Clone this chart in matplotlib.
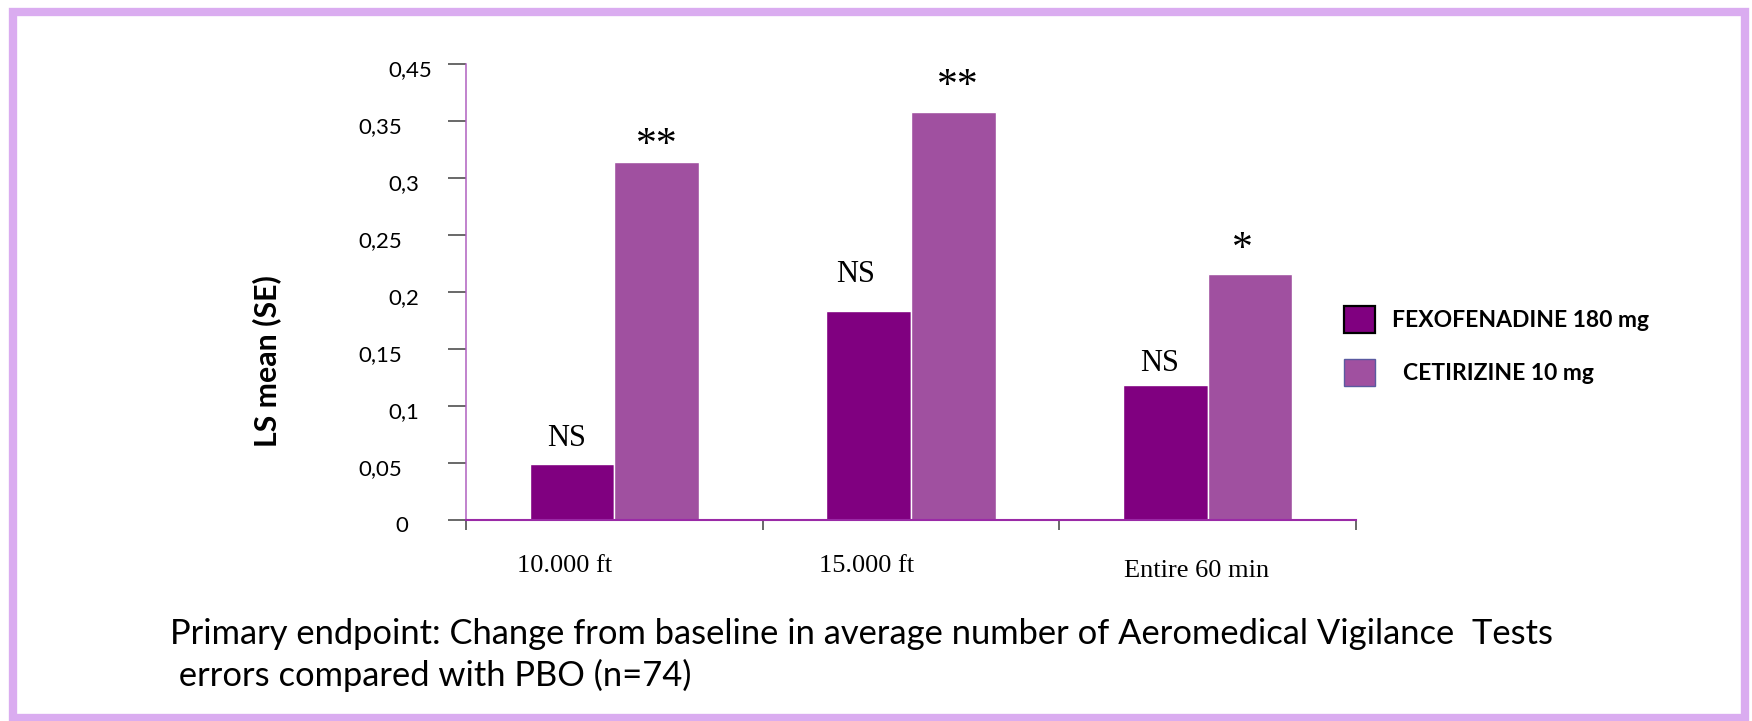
import numpy as np
import matplotlib.pyplot as plt
from matplotlib.patches import Patch, Rectangle

# LS mean change vs placebo, per test period
periods = ['10.000 ft', '15.000 ft', 'Entire 60 min']
fexofenadine = [0.049, 0.183, 0.118]
cetirizine = [0.314, 0.358, 0.216]
fexo_sig = ['NS', 'NS', 'NS']
ceti_sig = ['**', '**', '*']

yticks = [0, 0.05, 0.10, 0.15, 0.20, 0.25, 0.30, 0.35, 0.40]
ytick_labels = ['0', '0,05', '0,1', '0,15', '0,2', '0,25', '0,3', '0,35', '0,45']
series_names = ['FEXOFENADINE 180 mg', '  CETIRIZINE 10 mg']
caption = ('Primary endpoint: Change from baseline in average number of Aeromedical Vigilance  Tests\n'
           ' errors compared with PBO (n=74)')

FEXO_C = '#800080'
CETI_C = '#A050A0'
W, H = 1752, 721

# hand placement of the significance marks (x shift in data units, lift in points)
fexo_dx, fexo_lift = [-0.02, -0.043, -0.02], [13, 21, 10.6]
ceti_dx, ceti_lift = [0.0, 0.015, -0.027], [4.2, 10.4, 9.7]
# the y labels are not lined up on one edge: right edge offset from the axis, points
ylabel_dx = [-41.8, -46.1, -33.8, -46.1, -33.8, -46.1, -33.8, -46.1, -24.5]

fig = plt.figure(figsize=(W / 100, H / 100), dpi=100)
fig.patch.set_facecolor('white')
ax = fig.add_axes([466 / W, 1 - 520 / H, (1356 - 466) / W, (520 - 64) / H])

x = np.arange(len(periods))
bw = 0.285
b1 = ax.bar(x - bw, fexofenadine, width=bw, align='edge', color=FEXO_C,
            edgecolor='white', linewidth=1)
b2 = ax.bar(x, cetirizine, width=bw, align='edge', color=CETI_C,
            edgecolor='white', linewidth=1)

for bars, marks, dxs, lifts, size in ((b1, fexo_sig, fexo_dx, fexo_lift, 22),
                                      (b2, ceti_sig, ceti_dx, ceti_lift, 30)):
    for rect, m, dx, lift in zip(bars, marks, dxs, lifts):
        cx = rect.get_x() + rect.get_width() / 2 + dx
        ax.annotate(m, (cx, rect.get_height()), xytext=(0, lift),
                    textcoords='offset points', ha='center', va='baseline',
                    fontsize=size, family='Liberation Serif')

ax.set_xlim(-0.5, len(periods) - 0.5)
ax.set_ylim(0, 0.40)

ax.set_yticks(yticks)
ax.set_yticklabels([])
ax.tick_params(axis='y', length=13, width=1.1, color='#404040')
ytrans = ax.get_yaxis_transform()
for v, lab, dx in zip(yticks, ytick_labels, ylabel_dx):
    ax.annotate(lab, (0, v), xycoords=ytrans, xytext=(dx, -4.5),
                textcoords='offset points', ha='right', va='center',
                family='Lato', fontsize=16, annotation_clip=False)

# category boundaries get the tick marks, names sit in between
ax.set_xticks(np.arange(len(periods) + 1) - 0.5)
ax.set_xticklabels([])
ax.set_xticks([-0.169, 0.851, 1.962], minor=True)
ax.set_xticklabels(periods, minor=True, family='Liberation Serif', fontsize=19)
ax.tick_params(axis='x', which='major', length=7, width=1.1, color='#404040')
ax.tick_params(axis='x', which='minor', length=0, pad=25)
ax.xaxis.get_minor_ticks()[2].set_pad(29)

for s in ('top', 'right'):
    ax.spines[s].set_visible(False)
ax.spines['left'].set_color('#B060C0')
ax.spines['left'].set_linewidth(1.1)
ax.spines['bottom'].set_color('#9A2AA6')
ax.spines['bottom'].set_linewidth(1.5)

fig.text(267 / W, 1 - 361 / H, 'LS mean (SE)', rotation=90, ha='center', va='center',
         family='Lato', fontweight='bold', fontsize=21.8)

handles = [Patch(facecolor=FEXO_C, edgecolor='black', linewidth=1.6),
           Patch(facecolor=CETI_C, edgecolor='#5A5AA0', linewidth=1.0)]
fig.legend(handles, series_names, loc='center left',
           bbox_to_anchor=(1344 / W, 1 - 346 / H), frameon=False,
           prop={'family': 'Lato', 'weight': 'bold', 'size': 16.5},
           handlelength=1.35, handleheight=1.4, handletextpad=0.75,
           labelspacing=1.15, borderpad=0, borderaxespad=0)

fig.text(170 / W, 1 - 655 / H, caption, ha='left', va='center',
         family='Lato', fontsize=24.8, linespacing=1.35)

# lavender frame round the slide
fig.add_artist(Rectangle((13 / W, 3 / H), (1745 - 13) / W, (709 - 3) / H,
                         transform=fig.transFigure, fill=False,
                         edgecolor='#DAACF0', linewidth=6))

fig.savefig('out.png', dpi=100)
